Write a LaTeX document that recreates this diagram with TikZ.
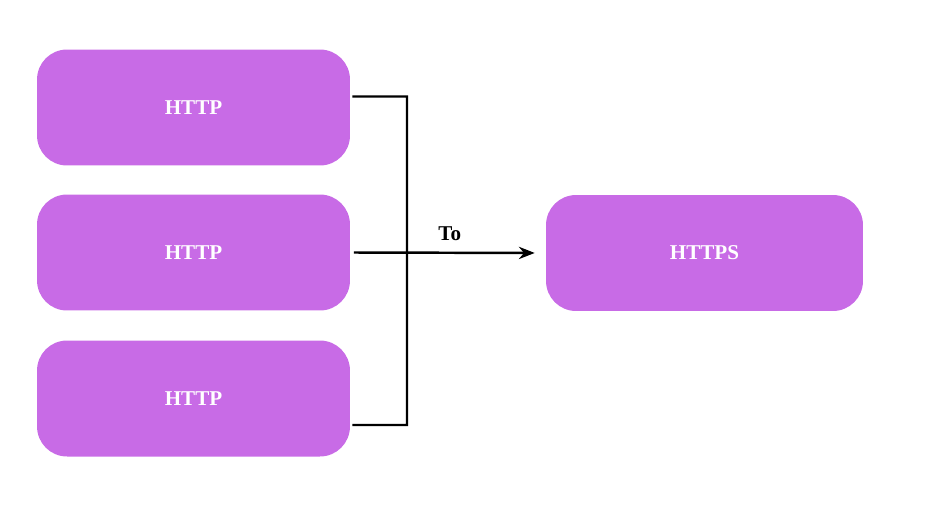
\documentclass[tikz,border=0pt]{standalone}
\usepackage{fontspec}
\setmainfont{Liberation Serif}
\usetikzlibrary{positioning, arrows.meta}
\definecolor{boxpurple}{HTML}{C86BE6}

\begin{document}
\begin{tikzpicture}[x=0.02cm, y=-0.02cm,
    proto/.style={fill=boxpurple, rounded corners=0.6cm, minimum width=6.26cm,
        minimum height=2.32cm, text=white, font=\bfseries\large},
    link/.style={line width=1.4pt}]
\useasboundingbox (0,0) rectangle (949,528);

% Source boxes
\node[proto] (http1) at (193.5,107.5) {HTTP};
\node[proto] (http2) at (193.5,252.5) {HTTP};
\node[proto] (http3) at (193.5,398.5) {HTTP};

% Target box
\node[proto, minimum width=6.34cm] (https) at (704.5,253) {HTTPS};

% Bracket joining the sources
\coordinate (join) at (407,0);
\draw[link] ([shift={(2,-11)}]http1.east) -| (join |- 0,425) -- ([shift={(2,26.5)}]http3.east);

% Arrow to the target
\draw[link, -{Stealth[length=9pt,width=7pt]}, shorten >=0.22cm] ([xshift=2]http2.east) -- node[above=3pt, pos=0.5, font=\bfseries\large] {To} (https.west);

\end{tikzpicture}
\end{document}
